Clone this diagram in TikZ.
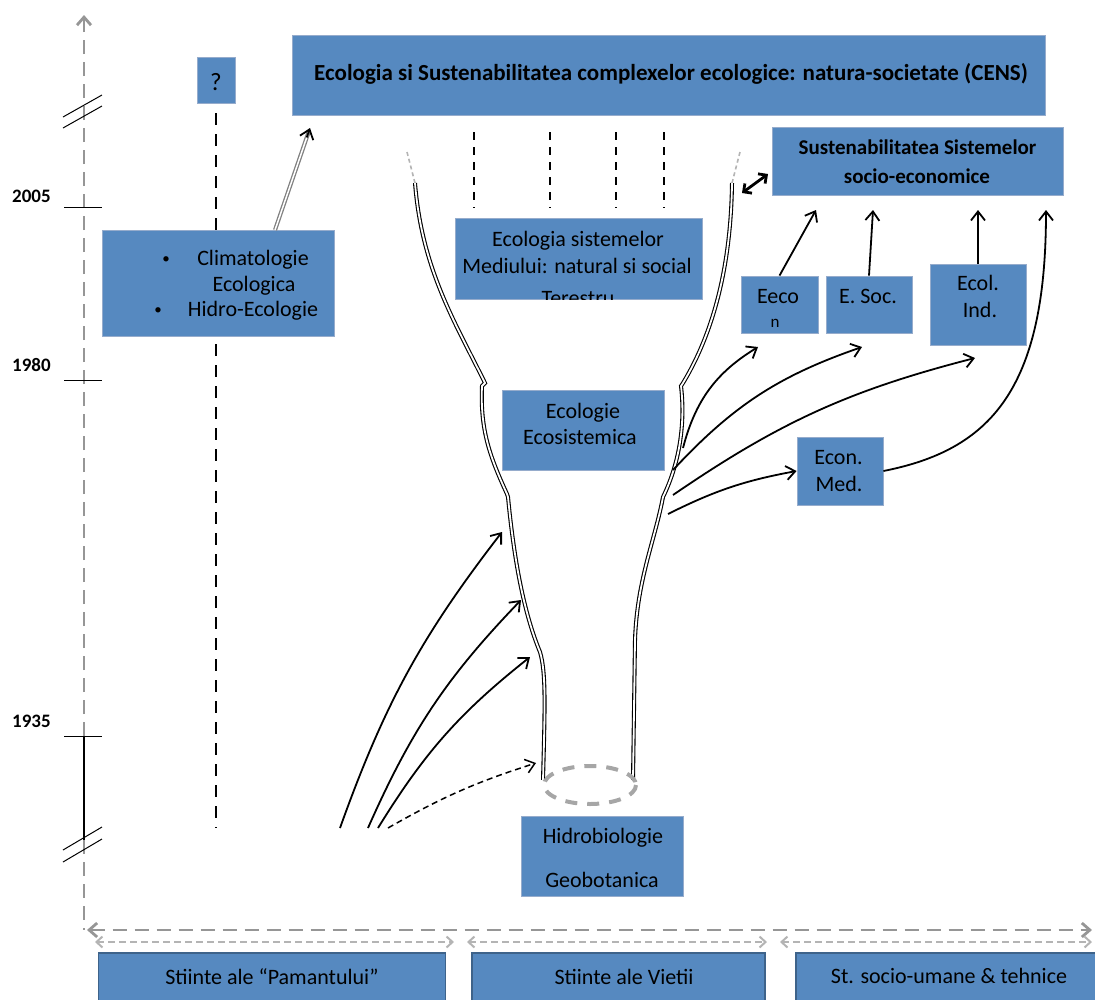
\documentclass[tikz,border=0pt]{standalone}
\usepackage{fontspec}
\setmainfont{Carlito}
\usetikzlibrary{arrows.meta,calc}
\definecolor{boxblue}{RGB}{86,137,192}
\definecolor{boxedge}{RGB}{150,172,204}
\definecolor{axisgray}{RGB}{150,150,150}
\definecolor{softgray}{RGB}{180,180,180}
\newcommand\fsz[1]{\fontsize{#1}{#1}\selectfont}

\begin{document}
\begin{tikzpicture}[x=1pt,y=-1pt,
  box/.style={fill=boxblue, draw=boxedge, line width=0.8pt, inner sep=0pt},
  basebox/.style={fill=boxblue, draw=boxblue!72!black, line width=1.4pt, inner sep=0pt},
  txt/.style={anchor=base, inner sep=0pt, font=\fsz{22}},
  btxt/.style={anchor=base, inner sep=0pt, font=\bfseries\fsz{23}},
  yearlbl/.style={anchor=base west, inner sep=0pt, font=\bfseries\fsz{19}},
  barb/.style={-{Straight Barb[length=9pt,width=14pt]}},
  link/.style={barb, line width=1.8pt},
  wall/.style={double=white, draw=black, line width=1.1pt, double distance=1.8pt},
  axis/.style={draw=axisgray, line width=2.8pt, dash pattern=on 14pt off 8pt},
  subaxis/.style={draw=softgray, line width=2pt, dash pattern=on 7pt off 4pt,
    {Straight Barb[length=6pt,width=11pt]}-{Straight Barb[length=6pt,width=11pt]}},
  blackdash/.style={draw=black, line width=2.6pt, dash pattern=on 12pt off 9pt},
  shortdash/.style={draw=black, line width=2.2pt, dash pattern=on 8pt off 7pt},
  stub/.style={draw=softgray, line width=1.6pt, dash pattern=on 4pt off 3pt},
  tick/.style={draw=black, line width=1pt},
]
\useasboundingbox (0,0) rectangle (1095,999);
\clip (0,0) rectangle (1095,999);

% ---------- time axis ----------
\coordinate (ytop) at (84,15);
\coordinate (y1935) at (84,736);
\coordinate (ybreak) at (84,840);
\coordinate (origin) at (84,930);
\coordinate (hleft) at (87,930);
\coordinate (hright) at (1092,930);
\draw[axis, -{Straight Barb[length=8pt,width=14pt]}] (y1935) -- (ytop);
\draw[tick, line width=1.6pt] (y1935) -- (ybreak);
\draw[axis] (ybreak) -- (origin);
\draw[axis, {Straight Barb[length=8pt,width=14pt]}-{Straight Barb[length=8pt,width=14pt]}] (hleft) -- (hright);

% axis breaks
\draw[tick] (63,117) -- (102,95);
\draw[tick] (63,128) -- (102,106);
\draw[tick] (63,850) -- (102,827);
\draw[tick] (63,862) -- (102,839);

% year ticks
\draw[tick] (64,207) -- (102,207);
\draw[tick] (64,380) -- (102,380);
\draw[tick] (64,736) -- (102,736);
\node[yearlbl] (y2005) at (12,202) {2005};
\node[yearlbl] (y1980) at (12,371) {1980};
\node[yearlbl] (y1935l) at (12,727) {1935};

% domain ranges
\coordinate (d1a) at (95,942);  \coordinate (d1b) at (454,942);
\coordinate (d2a) at (467,942); \coordinate (d2b) at (767,942);
\coordinate (d3a) at (780,942); \coordinate (d3b) at (1092,942);
\draw[subaxis] (d1a) -- (d1b);
\draw[subaxis] (d2a) -- (d2b);
\draw[subaxis] (d3a) -- (d3b);

\node[basebox, minimum width=347pt, minimum height=50pt] (b1) at (272,978) {};
\node[basebox, minimum width=293pt, minimum height=50pt] (b2) at (618.5,978) {};
\node[basebox, minimum width=306pt, minimum height=50pt] (b3) at (949,978) {};
\node[txt] (b1t) at (272,984) {Stiinte ale “Pamantului”};
\node[txt] (b2t) at (624,984) {Stiinte ale Vietii};
\node[txt] (b3t) at (949,983) {St. socio-umane \& tehnice};

% ---------- open question branch ----------
\node[box, minimum width=38pt, minimum height=46pt] (q) at (216,80) {};
\node[txt, font=\fsz{25}] (qt) at (216,90) {?};
\coordinate (qtop) at (216,113);
\coordinate (qbot) at (216,828);
\draw[blackdash] (qtop) -- (qbot);

\node[box, minimum width=232pt, minimum height=106pt] (clim) at (218,283) {};
\node[txt] (clim1) at (253,265) {Climatologie};
\node[txt] (clim2) at (254,291) {Ecologica};
\node[txt] (clim3) at (253,316) {Hidro-Ecologie};
\node[txt, font=\fsz{15}] (bul1) at (166,263) {\textbullet};
\node[txt, font=\fsz{15}] (bul2) at (158,314) {\textbullet};

\coordinate (climstart) at (275,230);
\coordinate (climtip) at (310,128);
\draw[double=white, draw=gray, line width=1.3pt, double distance=1.5pt]
  (climstart) -- ($(climtip)!3pt!(climstart)$);
\draw[link] ($(climtip)!10pt!(climstart)$) -- (climtip);

% ---------- main frame ----------
\node[box, minimum width=753pt, minimum height=80pt] (cens) at (668.5,75) {};
\node[btxt] (censt) at (671,80) {Ecologia si Sustenabilitatea complexelor ecologice: natura-societate (CENS)};

% dashed links below the frame
\foreach \x [count=\i] in {474,550,616,664}
  \draw[shortdash] (\x,132) -- (\x,208) coordinate (dl\i);

% ---------- funnel ----------
\draw[stub] (407,152) -- (415,183);
\draw[stub] (740,152) -- (732,183);
\draw[wall] (415,183) .. controls (422,270) and (455,322) .. (485,383)
  -- (482,386) .. controls (480,430) and (490,457) .. (507,494)
  -- (508,497) .. controls (515,570) and (526,618) .. (540,652)
  .. controls (546,672) and (545,705) .. (543,780);
\draw[wall] (732,183) .. controls (731,262) and (715,330) .. (683,383)
  -- (681,386) .. controls (685,420) and (681,460) .. (663,497)
  .. controls (655,540) and (637,580) .. (635,640) -- (633,780);
\draw[draw=axisgray!85, line width=4pt, dash pattern=on 12pt off 10pt]
  (590,785) ellipse [x radius=46, y radius=19];

\node[box, minimum width=247pt, minimum height=81pt] (sys) at (578.5,258.5) {};
\node[txt] (sys1) at (578,246) {Ecologia sistemelor};
\node[txt] (sys2) at (577,273) {Mediului: natural si social};
\begin{scope}
  \clip (sys.south west) rectangle (sys.north east);
  \node[txt] (sys3) at (578,305) {Terestru};
\end{scope}

\node[box, minimum width=162pt, minimum height=80pt] (ecosist) at (583,430) {};
\node[txt] (eco1) at (583,418) {Ecologie};
\node[txt] (eco2) at (580,444) {Ecosistemica};

\node[box, minimum width=162pt, minimum height=80pt] (hidro) at (602,856) {};
\node[txt] (hid1) at (603,843) {Hidrobiologie};
\node[txt] (hid2) at (602,887) {Geobotanica};

% inflows from the earth sciences
\coordinate (ls1) at (340,828); \coordinate (lw1) at (502,532);
\coordinate (ls2) at (368,828); \coordinate (lw2) at (521,600);
\coordinate (ls3) at (378,828); \coordinate (lw3) at (530,657);
\coordinate (ls4) at (388,828); \coordinate (lw4) at (536,763);
\draw[link] (ls1) to[bend left=9] (lw1);
\draw[link] (ls2) to[bend left=10] (lw2);
\draw[link] (ls3) to[bend left=10] (lw3);
\draw[link, line width=1.5pt, dash pattern=on 6pt off 4pt] (ls4) to[bend left=6] (lw4);

% ---------- socio-economic branch ----------
\node[box, minimum width=291pt, minimum height=68pt] (sust) at (917.5,161) {};
\node[btxt, font=\bfseries\fsz{21}] (sust1) at (917.5,154) {Sustenabilitatea Sistemelor};
\node[btxt, font=\bfseries\fsz{21}] (sust2) at (917,183) {socio-economice};

\coordinate (dwa) at (742,193);
\coordinate (dwb) at (768,174);
\draw[line width=2.8pt, {Straight Barb[length=6pt,width=12pt]}-{Straight Barb[length=6pt,width=12pt]}] (dwa) -- (dwb);

\node[box, minimum width=77pt, minimum height=57pt] (eecon) at (779.5,304.5) {};
\node[txt] (eecon1) at (778,303) {Eeco};
\node[txt, font=\fsz{17}] (eecon2) at (775,327) {n};
\node[box, minimum width=86pt, minimum height=57pt] (esoc) at (869,304.5) {};
\node[txt] (esoc1) at (868,303) {E. Soc.};
\node[box, minimum width=96pt, minimum height=81pt] (ecolind) at (978,304.5) {};
\node[txt] (ecol1) at (978,290) {Ecol.};
\node[txt] (ecol2) at (980,317) {Ind.};
\node[box, minimum width=86pt, minimum height=68pt] (econmed) at (840,471) {};
\node[txt] (econ1) at (838.5,464) {Econ.};
\node[txt] (econ2) at (839,491) {Med.};

% outflows from the funnel
\coordinate (rw1) at (683,448); \coordinate (t1) at (758,347);
\coordinate (rw2) at (673,470); \coordinate (t2) at (862,347);
\coordinate (rw3) at (673,495); \coordinate (t3) at (975,358);
\coordinate (rw4) at (668,514);
\draw[link] (rw1) to[bend left=22] (t1);
\draw[link] (rw2) to[bend left=14] (t2);
\draw[link] (rw3) to[bend left=10] (t3);
\draw[link] (rw4) to[bend left=8] (econmed.west);

% links into the socio-economic frame
\coordinate (s1) at (816,210);
\coordinate (s2) at (873,210);
\coordinate (s3) at (978,210);
\coordinate (s4) at (1046,210);
\draw[link] (eecon.north) -- (s1);
\draw[link] (esoc.north) -- (s2);
\draw[link] (ecolind.north) -- (s3);
\draw[link] (econmed.east) .. controls (990,450) and (1046,390) .. (s4);

\end{tikzpicture}
\end{document}
